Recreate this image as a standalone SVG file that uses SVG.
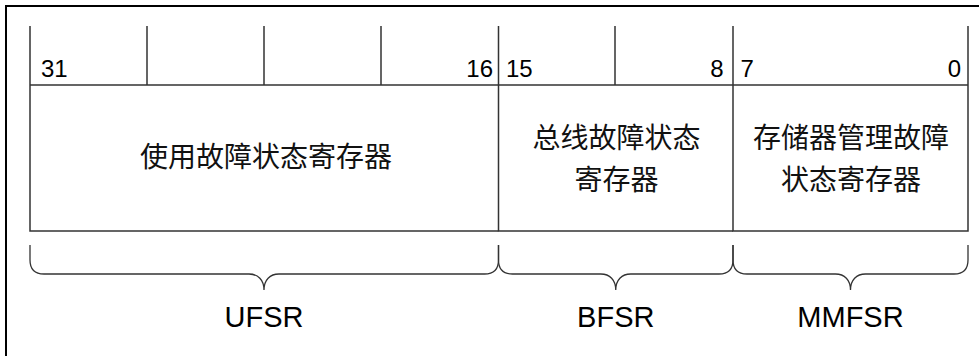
<svg xmlns="http://www.w3.org/2000/svg" width="979" height="356" viewBox="0 0 979 356">
<style>
.frame{stroke:#000;stroke-width:2;fill:none}
.ln{stroke:#333;stroke-width:1.5;fill:none}
.brace{stroke:#333;stroke-width:1.3;fill:none}
.num{font-family:"Liberation Sans",Arial,sans-serif;font-size:24px;fill:#000}
.lbl{font-family:"Liberation Sans",Arial,sans-serif;font-size:29px;fill:#000;text-anchor:middle}
.cjk{font-family:"Noto Sans CJK SC","Noto Sans",sans-serif;font-size:28px;fill:#111;text-anchor:middle}
</style>
<rect width="979" height="356" fill="#fff"/>
<path class="frame" d="M6,356 V6 H979"/>
<g id="connectors">
<path class="brace" d="M30,245 V260 Q30,274 44,274 H249 C258,274 264,280 264,290 C264,280 270,274 279,274 H484.5 Q498.5,274 498.5,260 V245"/>
<path class="brace" d="M498.5,245 V260 Q498.5,274 512.5,274 H600.75 C609.75,274 615.75,280 615.75,290 C615.75,280 621.75,274 630.75,274 H719 Q733,274 733,260 V245"/>
<path class="brace" d="M733,245 V260 Q733,274 747,274 H835.5 C844.5,274 850.5,280 850.5,290 C850.5,280 856.5,274 865.5,274 H954 Q968,274 968,260 V245"/>
</g>
<g id="header">
<path class="ln" d="M30,85 H968 M147,26 V85 M264,26 V85 M381,26 V85 M615,26 V85"/>
<text class="num" x="41" y="77">31</text>
<text class="num" x="493" y="77" text-anchor="end">16</text>
<text class="num" x="506" y="77">15</text>
<text class="num" x="723.5" y="77" text-anchor="end">8</text>
<text class="num" x="740.5" y="77">7</text>
<text class="num" x="961" y="77" text-anchor="end">0</text>
</g>
<g id="ufsr">
<path class="ln" d="M30,26 V231 H498.5"/>
<text class="cjk" x="266" y="166.5">使用故障状态寄存器</text>
<text class="lbl" x="264" y="327">UFSR</text>
</g>
<g id="bfsr">
<path class="ln" d="M498.5,26 V231 H733"/>
<text class="cjk"><tspan x="616.5" y="148">总线故障状态</tspan><tspan x="616.5" y="189.5">寄存器</tspan></text>
<text class="lbl" x="615.75" y="327">BFSR</text>
</g>
<g id="mmfsr">
<path class="ln" d="M733,26 V231 H968 V26"/>
<text class="cjk"><tspan x="851" y="148">存储器管理故障</tspan><tspan x="851" y="189.5">状态寄存器</tspan></text>
<text class="lbl" x="850.5" y="327">MMFSR</text>
</g>
</svg>
